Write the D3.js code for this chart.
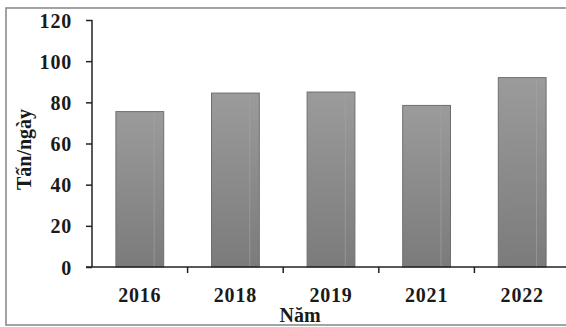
<!DOCTYPE html>
<html>
<head>
<meta charset="utf-8">
<script src="https://cdn.jsdelivr.net/npm/d3@7"></script>
<style>
  html, body { margin: 0; padding: 0; background: #fff; }
  svg { display: block; }
  text { font-family: "Liberation Serif", "Times New Roman", serif; font-weight: bold; fill: #1a1a1a; }
</style>
</head>
<body>
<svg id="chart" width="566" height="327"></svg>
<script>
// Daily tonnage by year
const years = ["2016", "2018", "2019", "2021", "2022"];
const tonsPerDay = [75.5, 84.5, 85, 78.5, 92];
const yTicks = [0, 20, 40, 60, 80, 100, 120];
const xTitle = "Năm";
const yTitle = "Tấn/ngày";

const svg = d3.select("#chart");
const W = 566, H = 327;
const m = { left: 92, right: -4, top: 20, bottom: 60 };

// outer frame
svg.append("rect")
  .attr("x", 6).attr("y", 8)
  .attr("width", W + 10).attr("height", 317)
  .attr("fill", "#fff")
  .attr("stroke", "#8c8c8c").attr("stroke-width", 1.6);

const x = d3.scaleBand()
  .domain(years)
  .range([m.left, W - m.right])
  .paddingInner(0.5).paddingOuter(0.25);

const y = d3.scaleLinear()
  .domain([0, 120])
  .range([H - m.bottom, m.top]);

// bar fill
const defs = svg.append("defs");
const grad = defs.append("linearGradient")
  .attr("id", "barFill").attr("x1", 0).attr("y1", 0).attr("x2", 0).attr("y2", 1);
grad.append("stop").attr("offset", "0%").attr("stop-color", "#9b9b9b");
grad.append("stop").attr("offset", "100%").attr("stop-color", "#7b7b7b");

const bars = svg.append("g");
bars.selectAll("rect.bar")
  .data(years)
  .join("rect")
  .attr("class", "bar")
  .attr("x", d => x(d))
  .attr("y", (d, i) => y(tonsPerDay[i]))
  .attr("width", x.bandwidth())
  .attr("height", (d, i) => y(0) - y(tonsPerDay[i]))
  .attr("fill", "url(#barFill)")
  .attr("stroke", "#6e6e6e").attr("stroke-width", 1);

// faint vertical highlight near the right side of each bar
bars.selectAll("line.shine")
  .data(years)
  .join("line")
  .attr("class", "shine")
  .attr("x1", d => x(d) + x.bandwidth() * 0.8)
  .attr("x2", d => x(d) + x.bandwidth() * 0.8)
  .attr("y1", (d, i) => y(tonsPerDay[i]) + 1)
  .attr("y2", y(0))
  .attr("stroke", "#a6a6a6").attr("stroke-width", 1).attr("opacity", 0.6);

// y axis
const yAxis = svg.append("g")
  .attr("transform", `translate(${m.left},0)`)
  .call(d3.axisLeft(y).tickValues(yTicks).tickSize(6).tickPadding(14).tickFormat(d3.format("d")));
yAxis.select(".domain").attr("stroke", "#222").attr("stroke-width", 1.5).attr("d", `M0,${y(120)}V${y(0)}`);
yAxis.selectAll(".tick line").attr("stroke", "#222").attr("stroke-width", 1.5);
yAxis.selectAll(".tick text")
  .attr("font-size", 20).attr("letter-spacing", 0.8)
  .attr("font-family", "Liberation Serif, serif").attr("font-weight", "bold")
  .attr("fill", "#1a1a1a").attr("dy", "0.35em");

// x axis with ticks at band boundaries
const xg = svg.append("g").attr("transform", `translate(0,${y(0)})`);
xg.append("line")
  .attr("x1", m.left - 6).attr("x2", W)
  .attr("stroke", "#222").attr("stroke-width", 1.5);
const bounds = years.slice(1).map(d => x(d) - x.step() * x.paddingInner() / 2);
xg.selectAll("line.tk")
  .data(bounds)
  .join("line")
  .attr("class", "tk")
  .attr("x1", d => d).attr("x2", d => d)
  .attr("y1", 0).attr("y2", 6)
  .attr("stroke", "#222").attr("stroke-width", 1.5);
xg.selectAll("text.lbl")
  .data(years)
  .join("text")
  .attr("class", "lbl")
  .attr("x", d => x(d) + x.bandwidth() / 2)
  .attr("y", 35)
  .attr("text-anchor", "middle")
  .attr("font-size", 20).attr("letter-spacing", 0.8)
  .text(d => d);

// axis titles
svg.append("text")
  .attr("x", 300).attr("y", 322)
  .attr("text-anchor", "middle")
  .attr("font-size", 20)
  .text(xTitle);

svg.append("text")
  .attr("transform", `translate(31,${(y(0) + y(120)) / 2 + 6}) rotate(-90)`)
  .attr("text-anchor", "middle")
  .attr("font-size", 20)
  .text(yTitle);
</script>
</body>
</html>
